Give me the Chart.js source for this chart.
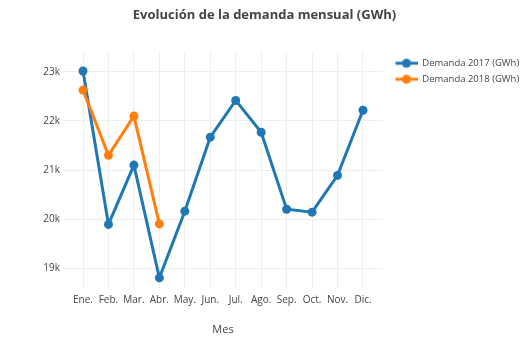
<!DOCTYPE html>
<html>
<head>
<meta charset="utf-8">
<script src="https://cdn.jsdelivr.net/npm/chart.js@4"></script>
<style>
  html, body { margin: 0; padding: 0; background: #fff; }
  #wrap { width: 529px; height: 339px; }
</style>
</head>
<body>
<div id="wrap"><canvas id="chart"></canvas></div>
<script>
const meses = ['Ene.', 'Feb.', 'Mar.', 'Abr.', 'May.', 'Jun.', 'Jul.', 'Ago.', 'Sep.', 'Oct.', 'Nov.', 'Dic.'];
const demanda2017 = [23020, 19890, 21100, 18800, 20160, 21670, 22420, 21770, 20200, 20140, 20890, 22220];
const demanda2018 = [22630, 21300, 22100, 19900];
const yTicks = [19000, 20000, 21000, 22000, 23000];
const series = ['Demanda 2017 (GWh)', 'Demanda 2018 (GWh)'];

const azul = '#1f77b4';
const naranja = '#ff7f0e';
const gris = '#444';

const legendFont = 9.5;
const legendPad = 6.5;
const iconW = 28;
const legendSpace = 146; // ancho a la derecha del area del grafico

// icono de leyenda: linea con punto al medio
function legendIcon(color) {
    const c = document.createElement('canvas');
    c.width = iconW;
    c.height = 12;
    const g = c.getContext('2d');
    g.strokeStyle = color;
    g.lineWidth = 3;
    g.beginPath();
    g.moveTo(6, 6);
    g.lineTo(iconW, 6);
    g.stroke();
    g.fillStyle = color;
    g.beginPath();
    g.arc(17, 6, 4.5, 0, Math.PI * 2);
    g.fill();
    return c;
}
const icons = [legendIcon(azul), legendIcon(naranja)];

// medir el texto para que la leyenda ocupe justo legendSpace
const mctx = document.createElement('canvas').getContext('2d');
mctx.font = legendFont + 'px "Open Sans"';
const textW = Math.max(...series.map(s => mctx.measureText(s).width));
const legendW = legendPad * 2 + iconW + legendFont / 2 + textW + 4.5;
const padRight = Math.max(legendSpace - legendW, 0);

const toPoints = arr => arr.map((v, i) => ({ x: i, y: v }));

const data = {
    datasets: [
        {
            label: series[0],
            data: toPoints(demanda2017),
            borderColor: azul,
            backgroundColor: azul,
            borderWidth: 3,
            pointRadius: 4.5,
            pointBorderWidth: 0,
            order: 2,
        },
        {
            label: series[1],
            data: toPoints(demanda2018),
            borderColor: naranja,
            backgroundColor: naranja,
            borderWidth: 3,
            pointRadius: 4.5,
            pointBorderWidth: 0,
            order: 1,
        },
    ],
};

const options = {
    responsive: true,
    maintainAspectRatio: false,
    animation: false,
    layout: { padding: { left: 0, right: padRight, top: 0, bottom: 0 } },
    scales: {
        x: {
            type: 'linear',
            min: -0.786,
            max: 11.786,
            afterBuildTicks: scale => {
                scale.ticks = meses.map((m, i) => ({ value: i }));
            },
            afterFit: scale => { scale.height = 51; },
            ticks: {
                autoSkip: false,
                maxRotation: 0,
                padding: 6,
                color: gris,
                font: { family: 'Open Sans', size: 10 },
                callback: value => meses[value],
            },
            grid: { color: '#eeeeee', drawTicks: false },
            border: { display: false },
            title: {
                display: true,
                text: 'Mes',
                color: gris,
                font: { family: 'Open Sans', size: 11 },
                padding: { top: 0, bottom: 3 },
            },
        },
        y: {
            min: 18592,
            max: 23408,
            afterBuildTicks: scale => {
                scale.ticks = yTicks.map(v => ({ value: v }));
            },
            afterFit: scale => { scale.width = 63; },
            ticks: {
                padding: 3,
                color: gris,
                font: { family: 'Open Sans', size: 10 },
                callback: value => (value / 1000) + 'k',
            },
            grid: { color: '#eeeeee', drawTicks: false },
            border: { display: false },
        },
    },
    plugins: {
        title: {
            display: true,
            text: 'Evolución de la demanda mensual (GWh)',
            color: gris,
            font: { family: 'Open Sans', size: 13, weight: 'bold' },
            padding: { top: 7, bottom: 29.4 },
        },
        legend: {
            position: 'right',
            align: 'start',
            fullSize: false,
            maxWidth: legendSpace,
            labels: {
                usePointStyle: true,
                pointStyleWidth: iconW,
                padding: legendPad,
                color: gris,
                font: { family: 'Open Sans', size: legendFont },
                sort: (a, b) => a.datasetIndex - b.datasetIndex,
                generateLabels: chart => {
                    const items = Chart.defaults.plugins.legend.labels.generateLabels(chart);
                    items.forEach(it => { it.pointStyle = icons[it.datasetIndex]; });
                    return items;
                },
            },
        },
        tooltip: { enabled: false },
    },
};

new Chart(document.getElementById('chart'), { type: 'line', data, options });
</script>
</body>
</html>
